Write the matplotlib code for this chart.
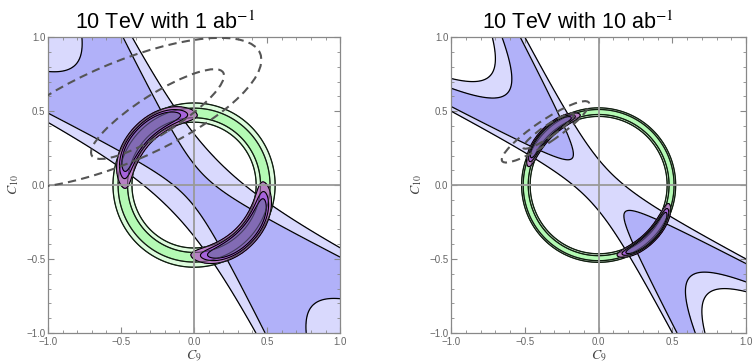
import numpy as np
import matplotlib
matplotlib.use('Agg')
import matplotlib.pyplot as plt
from matplotlib.patches import Ellipse
from matplotlib.ticker import MultipleLocator, FuncFormatter

titles = ["10 TeV with 1 ab$^{-1}$", "10 TeV with 10 ab$^{-1}$"]
title_x = [0.40, 0.43]   # titles sit over the whole panel incl. the y label

# blue observable  Q = C9^2 + C10^2 + k*C9*C10, band edges
blue_k = [2.5, 2.44]
blue_edges = [[-0.33, 0.02, 0.12], [-0.239, -0.169, -0.0143, 0.03]]
blue_fill = [["light", "dark", "light", "none"],
             ["none", "light", "dark", "light", "none"]]

# green ring: radii of the 2 sigma / 1 sigma edges
ring_radii = [[0.425, 0.455, 0.52, 0.555], [0.464, 0.477, 0.511, 0.522]]

# combined fit (purple): centre / half width of blue 1 sigma band and ring
comb_blue = [(-0.16, 0.17), (-0.092, 0.077)]
comb_ring = [(0.4875, 0.0325), (0.494, 0.017)]
comb_levels = [2.8, 4.0, 6.0]

# dashed ellipses: (C9, C10, semi major, semi minor, angle deg)
ellipses = [[(-0.25, 0.48, 0.53, 0.135, 32), (-0.5, 0.4875, 1.034, 0.334, 23)],
            [(-0.34, 0.365, 0.205, 0.04, 34), (-0.36, 0.36, 0.354, 0.075, 34)]]

colors = {"light": "#d9d9fd", "dark": "#b1b1f9", "none": (1, 1, 1, 0)}
green_pale = "#ddfcdd"
green = "#b4fab4"
purple_cols = ["#7a52b4", "#a448e2", "#b86cc8"]

plt.rcParams['font.family'] = ['Liberation Sans', 'DejaVu Sans']
plt.rcParams['mathtext.fontset'] = 'stix'

fig = plt.figure(figsize=(7.53, 3.64), dpi=100)
axes = [fig.add_axes([0.0637, 0.085, 0.388, 0.813]),
        fig.add_axes([0.599, 0.085, 0.392, 0.813])]

n = 700
x = np.linspace(-1, 1, n)
X, Y = np.meshgrid(x, x)
R = np.sqrt(X**2 + Y**2)

def fmt(v, pos):
    return ("%.1f" % v).replace("-", "\u2212")

for i, ax in enumerate(axes):
    Q = X**2 + Y**2 + blue_k[i]*X*Y
    lv = [Q.min() - 1] + blue_edges[i] + [Q.max() + 1]
    ax.contourf(X, Y, Q, levels=lv, colors=[colors[c] for c in blue_fill[i]], zorder=1)
    ax.contour(X, Y, Q, levels=blue_edges[i], colors='black', linewidths=0.9,
               linestyles='solid', zorder=2)

    rr = ring_radii[i]
    ax.contourf(X, Y, R, levels=rr, colors=[green_pale, green, green_pale], zorder=3)
    ax.contour(X, Y, R, levels=rr, colors='black', linewidths=0.9, zorder=4)

    qc, qh = comb_blue[i]
    rc, rh = comb_ring[i]
    chi2 = ((Q - qc)/qh)**2 + ((R - rc)/rh)**2
    ax.contourf(X, Y, chi2, levels=[0] + comb_levels, colors=purple_cols, alpha=0.85, zorder=5)
    ax.contour(X, Y, chi2, levels=comb_levels, colors='black', linewidths=0.8, zorder=6)
    # ring edges show through the combined region
    ax.contour(X, Y, R, levels=rr, colors='#1f3d1f', linewidths=0.6, alpha=0.6, zorder=6)

    for (cx, cy, a, b, ang) in ellipses[i]:
        ax.add_patch(Ellipse((cx, cy), 2*a, 2*b, angle=ang, fill=False,
                             ec='#555555', lw=1.5, ls=(0, (4, 2.5)), zorder=8))

    ax.axhline(0, color='#999999', lw=1.3, zorder=7)
    ax.axvline(0, color='#999999', lw=1.3, zorder=7)

    ax.set_xlim(-1, 1)
    ax.set_ylim(-1, 1)
    for s in ax.spines.values():
        s.set_color('#888888')
        s.set_linewidth(0.9)
    ax.xaxis.set_major_locator(MultipleLocator(0.5))
    ax.yaxis.set_major_locator(MultipleLocator(0.5))
    ax.xaxis.set_minor_locator(MultipleLocator(0.1))
    ax.yaxis.set_minor_locator(MultipleLocator(0.1))
    ax.xaxis.set_major_formatter(FuncFormatter(fmt))
    ax.yaxis.set_major_formatter(FuncFormatter(fmt))
    ax.tick_params(which='both', direction='in', top=True, right=True,
                   color='#888888', labelcolor='#666666', labelsize=7)
    ax.tick_params(axis='x', pad=3)
    ax.tick_params(axis='y', pad=2)
    ax.tick_params(which='major', length=4, width=0.8)
    ax.tick_params(which='minor', length=2, width=0.6)
    ax.set_xlabel("$C_9$", fontsize=10, color='#444444', labelpad=1)
    ax.set_ylabel("$C_{10}$", fontsize=10, color='#444444', labelpad=4)
    ax.set_title(titles[i], fontsize=15.5, pad=6, x=title_x[i])

fig.savefig("out.png", dpi=100)
